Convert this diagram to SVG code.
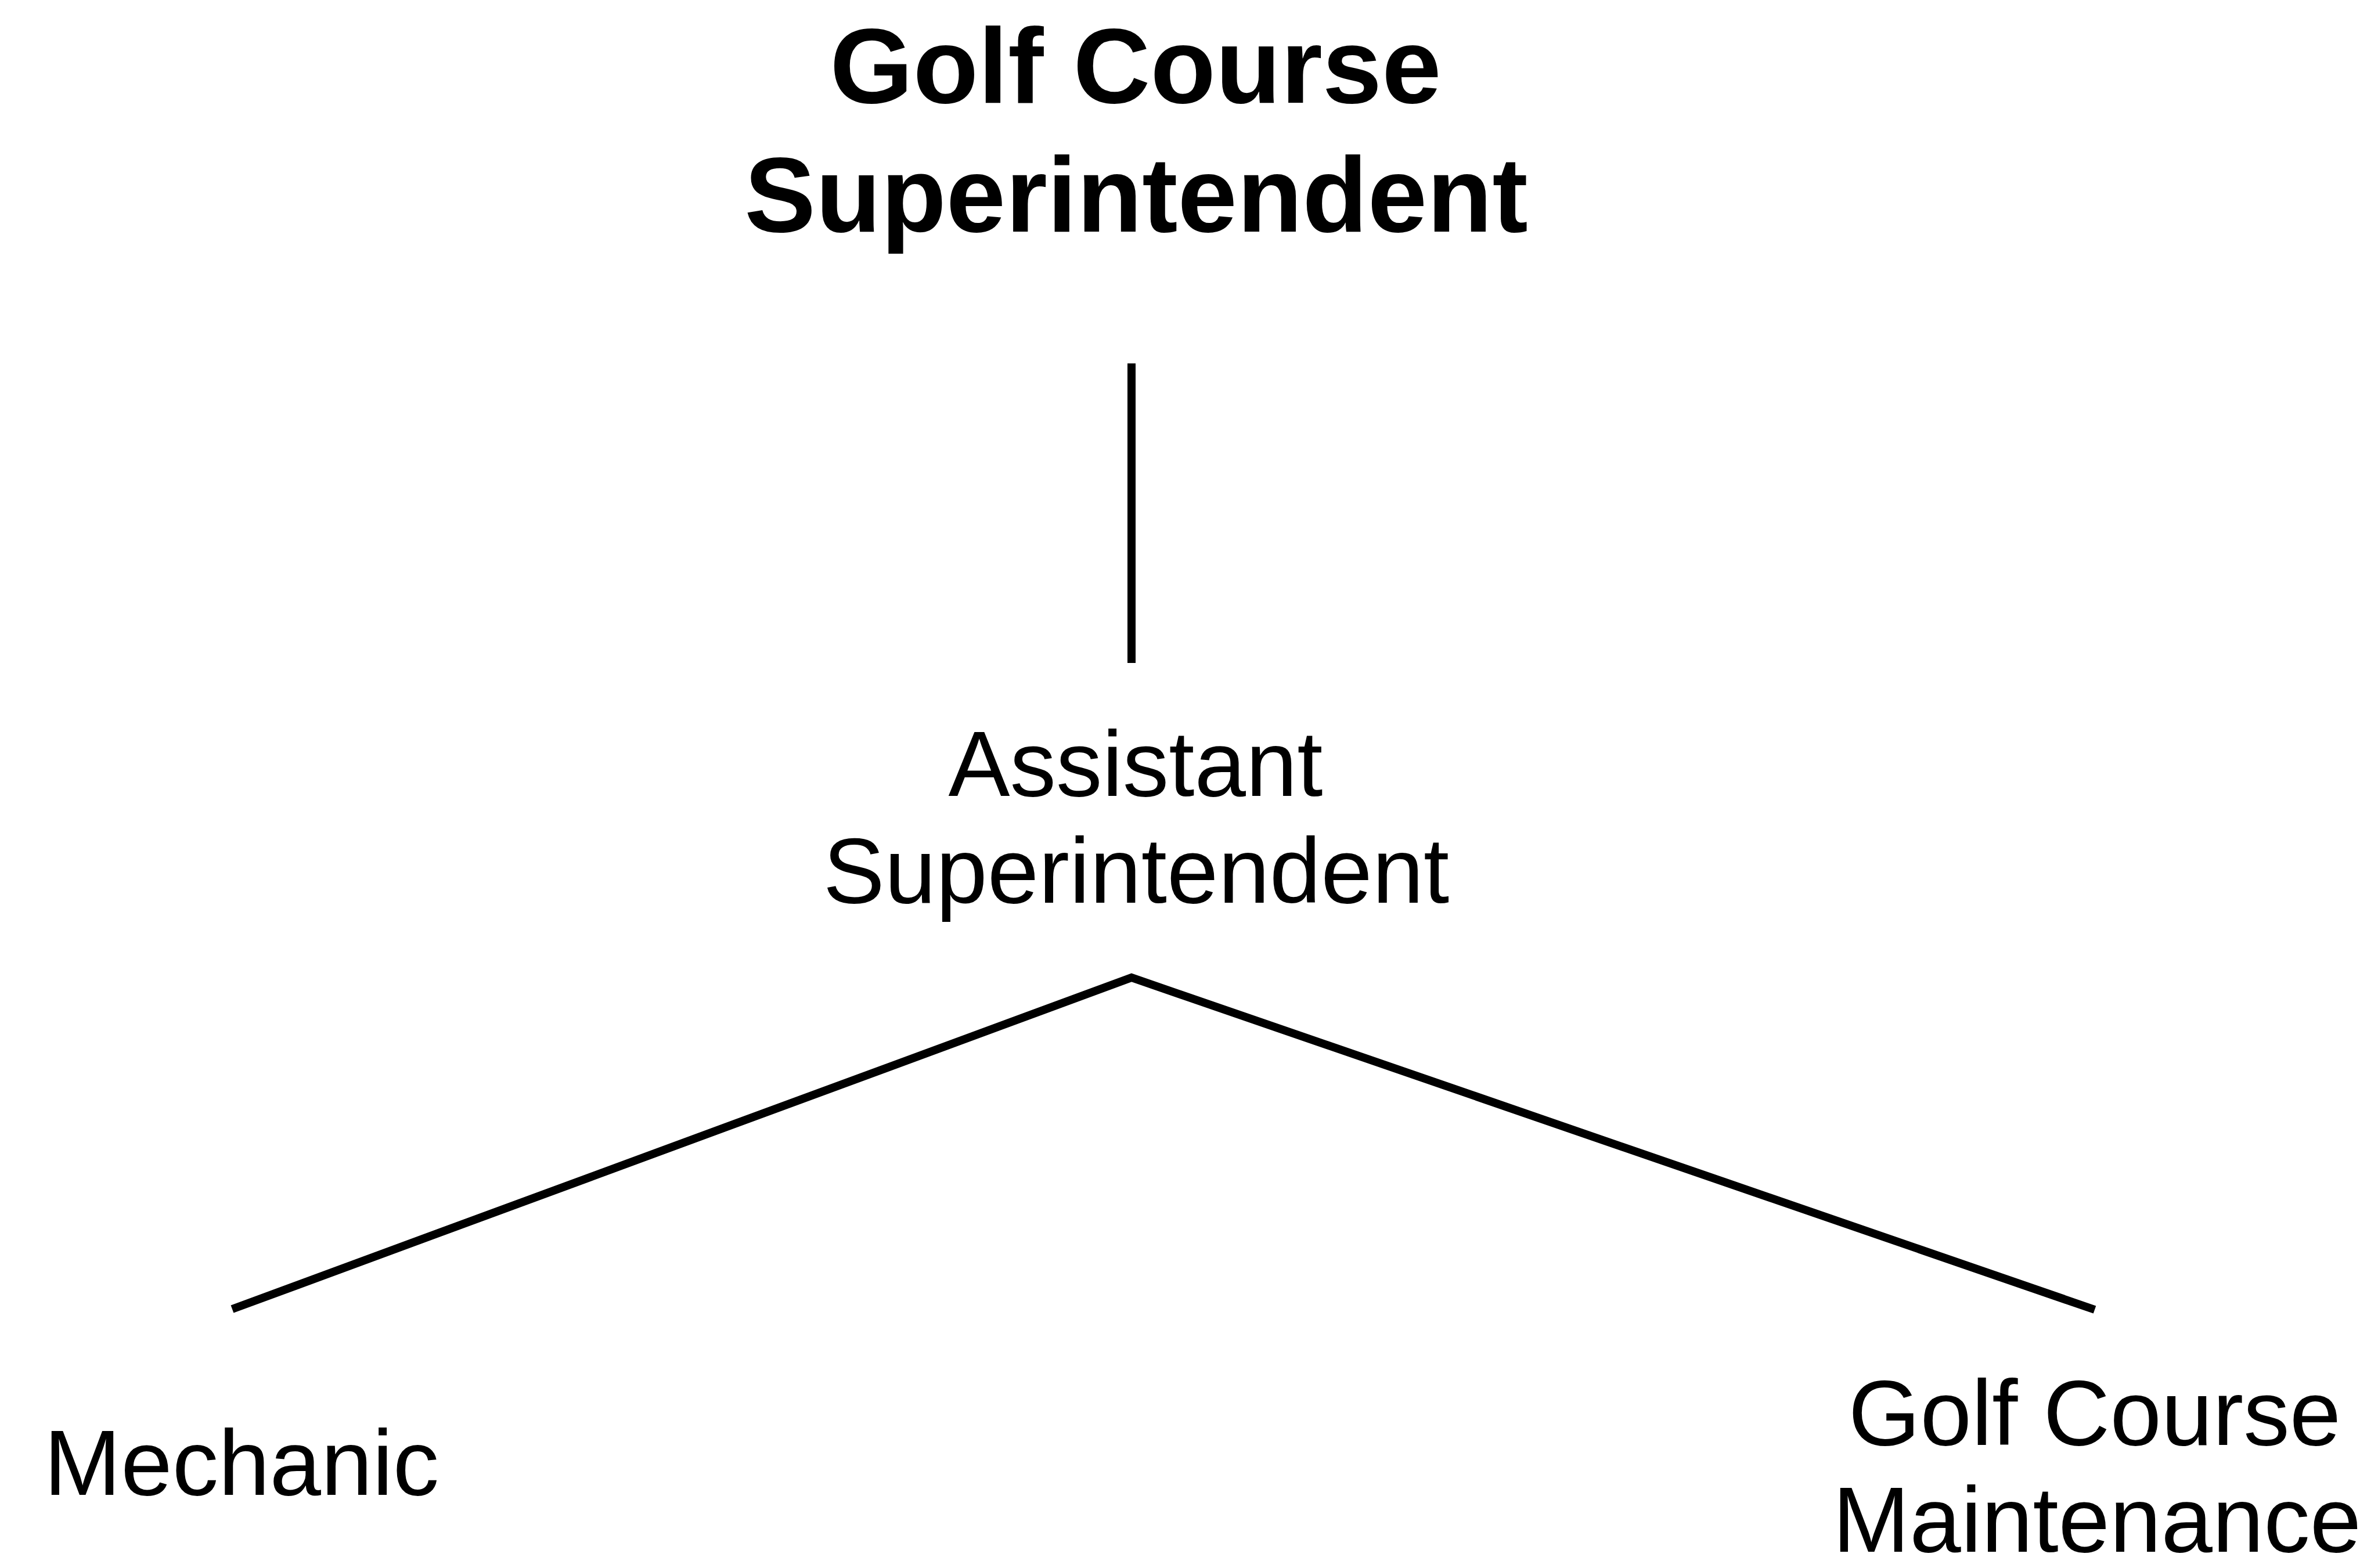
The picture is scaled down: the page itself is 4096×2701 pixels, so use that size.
<svg xmlns="http://www.w3.org/2000/svg" width="4096" height="2701" viewBox="0 0 4096 2701">
  <style>
    .label { font-family: "Liberation Sans", Arial, sans-serif; font-size: 159px; fill: #000; text-anchor: middle; }
    .title { font-family: "Liberation Sans", Arial, sans-serif; font-size: 184px; font-weight: bold; fill: #000; text-anchor: middle; }
    .link { stroke: #000; stroke-width: 14; fill: none; stroke-linejoin: miter; }
  </style>
  <rect width="4096" height="2701" fill="#fff"/>

  <g id="connectors">
    <line class="link" x1="1949" y1="626" x2="1949" y2="1142"/>
    <polyline class="link" points="400,2255 1949,1684 3608,2256"/>
  </g>

  <g id="superintendent">
    <text class="title" x="1956" y="177">Golf Course</text>
    <text class="title" x="1957" y="399">Superintendent</text>
  </g>

  <g id="assistant">
    <text class="label" x="1956" y="1371">Assistant</text>
    <text class="label" x="1957" y="1555">Superintendent</text>
  </g>

  <g id="mechanic">
    <text class="label" x="416" y="2575">Mechanic</text>
  </g>

  <g id="maintenance">
    <text class="label" x="3608" y="2489">Golf Course</text>
    <text class="label" x="3612" y="2673">Maintenance</text>
  </g>
</svg>
